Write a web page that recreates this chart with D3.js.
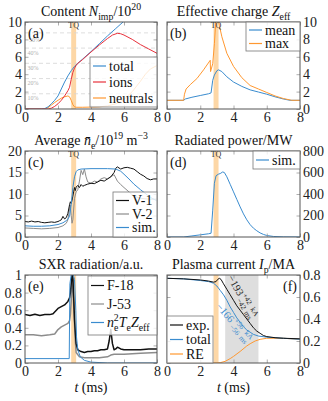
<!DOCTYPE html>
<html>
<head>
<meta charset="utf-8">
<script src="https://cdn.jsdelivr.net/npm/d3@7"></script>
<style>
body { margin: 0; background: #fff; }
svg, svg text { font-family: "Liberation Serif", "Tinos", "Times New Roman", "DejaVu Serif", serif; }
</style>
</head>
<body>
<svg id="chart" width="328" height="401"></svg>
<script>
// ---- data ----
const tqBand = [2.8, 3.1];
const fitWindow = [3.5, 5.5];
const timeTicks = [0, 2, 4, 6, 8];

// (a) impurity content
const aTicks = [0, 2, 4, 6, 8, 10];
const aPctLabels = ["10%", "20%", "30%", "40%", "50%"];
const aPctValues = [1.75, 3.5, 5.25, 7.0, 8.75];
const aTotal = [[0,0],[1.0,0],[1.2,0.05],[1.4,0.25],[1.6,0.6],[1.8,1.0],[2.0,1.5],[2.2,2.3],[2.4,3.1],[2.6,3.8],[2.8,4.4],[3.0,4.9],[3.2,5.25],[3.5,5.75],[4.0,6.6],[4.5,7.5],[5.0,8.4],[5.5,9.25],[6.0,10.1],[6.5,10.9]];
const aIons = [[0,0],[1.4,0],[1.6,0.1],[1.8,0.3],[2.0,0.6],[2.2,1.0],[2.4,1.5],[2.6,2.1],[2.7,2.5],[2.8,3.4],[2.9,4.2],[3.0,4.7],[3.1,5.0],[3.2,5.25],[3.5,5.7],[4.0,6.55],[4.5,7.35],[5.0,8.1],[5.3,8.5],[5.6,8.7],[5.8,8.65],[6.0,8.5],[6.5,8.0],[7.0,7.4],[7.5,6.9],[8.0,6.4]];
const aNeutrals = [[0,0],[1.2,0],[1.4,0.15],[1.6,0.45],[1.8,0.75],[2.0,1.0],[2.2,1.25],[2.4,1.4],[2.6,1.5],[2.7,1.4],[2.8,1.0],[2.9,0.5],[3.0,0.25],[3.1,0.2],[3.5,0.2],[4.0,0.22],[4.5,0.25],[5.0,0.35],[5.5,0.6],[6.0,1.1],[6.5,2.0],[7.0,3.2],[7.3,4.0],[7.6,4.6],[8.0,5.0]];

// (b) effective charge
const bTicks = [0, 2, 4, 6, 8, 10];
const bMean = [[0,1],[1.0,1],[1.1,1.15],[1.5,1.35],[2.0,1.55],[2.5,1.75],[2.65,1.85],[2.75,3.3],[2.85,3.9],[3.0,4.4],[3.1,4.5],[3.3,4.3],[3.6,3.7],[4.0,3.1],[4.5,2.6],[5.0,2.2],[5.5,1.95],[6.0,1.7],[6.5,1.4],[7.0,1.15],[7.4,1.0],[8.0,1.0]];
const bMax = [[0,1],[1.0,1],[1.05,1.7],[1.15,2.3],[1.4,2.8],[1.8,3.5],[2.2,4.5],[2.6,5.6],[2.62,4.3],[2.75,5.2],[2.85,7.5],[2.95,10.5],[3.05,10.5],[3.15,9.6],[3.3,8.3],[3.6,6.4],[4.0,4.9],[4.5,3.6],[5.0,2.7],[5.5,2.3],[6.0,1.9],[6.5,1.5],[7.0,1.2],[7.5,1.0],[8.0,1.0]];

// (c) line-averaged density
const cTicks = [0, 5, 10, 15, 20];
const cV1 = [[0,3.6],[0.2,3.5],[0.4,3.7],[0.6,3.5],[0.8,3.6],[1.0,3.4],[1.2,3.3],[1.4,3.4],[1.6,3.5],[1.8,3.4],[2.0,3.6],[2.1,3.8],[2.2,4.0],[2.3,4.8],[2.4,4.2],[2.5,4.5],[2.6,5.5],[2.7,7.5],[2.75,8.2],[2.8,7.8],[2.85,8.5],[2.9,9.5],[2.95,10.5],[3.0,11.5],[3.05,10.8],[3.1,11.6],[3.2,12.0],[3.3,11.5],[3.4,12.2],[3.5,11.8],[3.6,12.0],[3.8,12.3],[4.0,12.5],[4.2,12.4],[4.4,12.8],[4.6,13.2],[4.8,13.0],[5.0,13.5],[5.2,14.0],[5.4,15.0],[5.5,16.0],[5.6,16.3],[5.8,15.8],[6.0,16.1],[6.2,16.2],[6.4,16.0],[6.6,15.8],[6.8,15.2],[7.0,14.6],[7.2,14.2],[7.4,13.6],[7.6,13.3],[7.8,13.5],[8.0,13.5]];
const cV2 = [[0,2.1],[0.5,2.0],[1.0,1.9],[1.5,2.0],[2.0,2.2],[2.3,2.6],[2.5,3.2],[2.6,4.0],[2.7,6.5],[2.75,7.5],[2.8,5.0],[2.85,3.2],[2.9,4.0],[3.0,9.0],[3.1,10.5],[3.2,11.0],[3.3,13.0],[3.4,15.5],[3.5,14.5],[3.6,15.8],[3.7,14.0],[3.8,12.8],[4.0,12.5],[4.2,13.0],[4.4,12.8],[4.6,13.5],[4.8,13.8],[5.0,13.5],[5.2,14.0],[5.4,14.5],[5.6,13.0],[5.8,12.2],[6.0,11.5],[6.3,10.5],[6.6,9.5],[7.0,9.0],[7.5,8.8],[8.0,8.8]];
const cSim = [[0,2.6],[0.5,2.5],[1.0,2.5],[1.5,2.6],[2.0,2.9],[2.3,3.3],[2.5,3.8],[2.6,4.2],[2.7,4.8],[2.8,7.5],[2.9,11.5],[3.0,14.0],[3.1,15.2],[3.2,15.6],[3.4,15.8],[4.0,15.9],[5.0,15.9],[5.5,15.8],[5.8,15.3],[6.0,14.6],[6.3,13.5],[6.6,12.3],[7.0,11.0],[7.4,9.8],[7.7,9.0],[8.0,8.4]];

// (d) radiated power
const dTicks = [0, 200, 400, 600, 800];
const dSim = [[0,0],[1.0,0],[1.5,10],[2.0,20],[2.5,30],[2.65,35],[2.75,250],[2.85,500],[2.95,570],[3.1,585],[3.2,590],[3.35,605],[3.45,600],[3.6,560],[3.8,490],[4.0,420],[4.2,350],[4.4,280],[4.6,215],[4.8,160],[5.0,115],[5.2,82],[5.4,58],[5.6,38],[5.8,24],[6.0,14],[6.4,5],[7.0,1],[8.0,0]];

// (e) SXR radiation
const eTicks = [0, 0.2, 0.4, 0.6, 0.8, 1];
const eF18 = [[0,0.55],[0.3,0.54],[0.6,0.555],[0.9,0.54],[1.2,0.55],[1.5,0.55],[1.7,0.56],[1.9,0.6],[2.0,0.62],[2.2,0.64],[2.4,0.66],[2.5,0.68],[2.6,0.7],[2.7,0.74],[2.75,0.8],[2.8,0.9],[2.85,1.0],[2.9,0.97],[2.95,0.75],[3.0,0.5],[3.05,0.35],[3.1,0.22],[3.2,0.15],[3.4,0.13],[3.6,0.12],[3.8,0.13],[4.0,0.13],[4.2,0.14],[4.4,0.14],[4.6,0.15],[4.8,0.15],[5.0,0.16],[5.1,0.25],[5.2,0.38],[5.3,0.22],[5.4,0.15],[5.5,0.16],[5.6,0.18],[5.8,0.16],[6.0,0.15],[6.5,0.15],[7.0,0.15],[7.5,0.16],[8.0,0.16]];
const eJ53 = [[0,0.32],[0.5,0.32],[1.0,0.31],[1.5,0.32],[1.8,0.33],[2.0,0.38],[2.2,0.41],[2.4,0.43],[2.6,0.45],[2.7,0.48],[2.75,0.55],[2.8,0.7],[2.87,1.0],[2.92,0.8],[3.0,0.45],[3.05,0.25],[3.1,0.12],[3.3,0.07],[3.6,0.06],[4.0,0.06],[4.5,0.06],[5.0,0.07],[5.2,0.09],[5.4,0.1],[5.6,0.1],[6.0,0.1],[7.0,0.11],[8.0,0.12]];
const eSim = [[0,0.05],[2.68,0.05],[2.72,0.9],[2.8,1.0],[2.9,1.02],[3.0,0.95],[3.08,0.6],[3.12,0.3],[3.2,0.15],[3.35,0.07],[3.6,0.03],[4.0,0.01],[5.0,0],[8.0,0]];

// (f) plasma current
const fTicks = [0, 0.2, 0.4, 0.6, 0.8];
const fExp = [[0,0.77],[1,0.765],[2,0.755],[2.5,0.745],[2.8,0.735],[2.95,0.74],[3.05,0.76],[3.15,0.77],[3.25,0.76],[3.4,0.72],[3.6,0.67],[3.8,0.62],[4.0,0.57],[4.2,0.52],[4.4,0.48],[4.6,0.44],[4.8,0.4],[5.0,0.36],[5.2,0.32],[5.4,0.29],[5.6,0.27],[5.8,0.25],[6.0,0.24],[6.5,0.23],[7.0,0.225],[8.0,0.22]];
const fTotal = [[0,0.77],[1,0.765],[2,0.75],[2.5,0.74],[2.8,0.725],[3.0,0.7],[3.2,0.66],[3.4,0.62],[3.6,0.57],[3.8,0.51],[4.0,0.46],[4.2,0.41],[4.4,0.37],[4.6,0.33],[4.8,0.3],[5.0,0.28],[5.2,0.26],[5.5,0.245],[6.0,0.235],[7.0,0.225],[8.0,0.215]];
const fRE = [[0,0],[3.0,0],[3.2,0.003],[3.5,0.015],[3.8,0.04],[4.0,0.06],[4.4,0.105],[4.8,0.155],[5.0,0.175],[5.3,0.2],[5.6,0.215],[6.0,0.225],[7.0,0.225],[8.0,0.215]];

// ---- layout ----
const font = "Liberation Serif, Tinos, Times New Roman, serif";
const blue = "#3a8ccf", orange = "#ff9830", red = "#e8313c", grey = "#8c8c8c";
const cols = [[25, 157], [167, 300]];
const rows = [[22, 109], [151, 237], [275, 363]];
const fs = 14;

const svg = d3.select("#chart").attr("font-family", font);

function rich(sel, parts, size) {
  let shift = 0;
  sel.attr("font-family", font);
  parts.forEach(([str, kind = "", dx]) => {
    const sub = kind.includes("sub"), sup = kind.includes("sup");
    const target = sub ? 0.3 * size : sup ? -0.42 * size : 0;
    const ts = sel.append("tspan").text(str).attr("dy", target - shift);
    if (dx) ts.attr("dx", dx);
    if (sub || sup) ts.attr("font-size", size * 0.7);
    if (kind.startsWith("i")) ts.attr("font-style", "italic");
    shift = target;
  });
}

function panel(p) {
  const [x0, x1] = cols[p.col], [y0, y1] = rows[p.row];
  const x = d3.scaleLinear().domain([0, 8]).range([x0, x1]);
  const y = d3.scaleLinear().domain(p.yDomain).range([y1, y0]);
  const g = svg.append("g");
  const clip = "clip-" + p.id;
  g.append("clipPath").attr("id", clip).append("rect")
    .attr("x", x0).attr("y", y0).attr("width", x1 - x0).attr("height", y1 - y0);
  const inner = g.append("g").attr("clip-path", `url(#${clip})`);

  if (p.window) {
    inner.append("rect").attr("x", x(p.window[0])).attr("y", y0)
      .attr("width", x(p.window[1]) - x(p.window[0])).attr("height", y1 - y0)
      .attr("fill", "#dedede");
  }
  inner.append("rect").attr("x", x(tqBand[0])).attr("y", y0)
    .attr("width", x(tqBand[1]) - x(tqBand[0])).attr("height", y1 - y0)
    .attr("fill", "#fdd7a6");

  if (p.grid) {
    inner.selectAll(".grid").data(p.grid.values).join("line")
      .attr("x1", x0).attr("x2", x1)
      .attr("y1", d => y(d)).attr("y2", d => y(d))
      .attr("stroke", "#d4d4d4").attr("stroke-width", 0.8).attr("stroke-dasharray", "4,3");
    inner.selectAll(".pct").data(p.grid.labels).join("text")
      .attr("x", (d, i) => x0 + (i === 4 ? 4 : 2.5)).attr("y", (d, i) => y(p.grid.values[i]) + (i === 4 ? 9 : 6.5))
      .attr("font-size", 6).attr("fill", "#b0b0b0").text(d => d);
  }

  const line = d3.line().x(d => x(d[0])).y(d => y(d[1]));
  p.series.forEach(s => {
    inner.append("path").attr("d", line(s.data)).attr("fill", "none")
      .attr("stroke", s.color).attr("stroke-width", s.width || 1)
      .attr("stroke-linejoin", "round");
  });

  // axes with inward ticks on all sides
  const tick = 3.5;
  const ax = (gen, tx, ty, labels) => {
    const a = g.append("g").attr("transform", `translate(${tx},${ty})`).call(gen)
      .attr("font-family", font).attr("font-size", fs);
    a.select(".domain").remove();
    a.selectAll(".tick line").attr("stroke", "#999").attr("stroke-width", 0.8);
    a.selectAll("text").attr("fill", "#222");
    if (!labels) a.selectAll("text").remove();
    return a;
  };
  ax(d3.axisBottom(x).tickValues(timeTicks).tickSize(-tick).tickPadding(3).tickFormat(d3.format("d")), 0, y1, true);
  ax(d3.axisTop(x).tickValues(timeTicks).tickSize(-tick), 0, y0, false);
  const yFmt = d => String(d);
  if (p.col === 0) {
    ax(d3.axisLeft(y).tickValues(p.yTicks).tickSize(-tick).tickPadding(3).tickFormat(yFmt), x0, 0, true);
    ax(d3.axisRight(y).tickValues(p.yTicks).tickSize(-tick), x1, 0, false);
  } else {
    ax(d3.axisLeft(y).tickValues(p.yTicks).tickSize(-tick), x0, 0, false);
    ax(d3.axisRight(y).tickValues(p.yTicks).tickSize(-tick).tickPadding(3).tickFormat(yFmt), x1, 0, true);
  }

  g.append("rect").attr("x", x0).attr("y", y0).attr("width", x1 - x0).attr("height", y1 - y0)
    .attr("fill", "none").attr("stroke", "#555").attr("stroke-width", 1);

  // title
  const tt = g.append("text").attr("x", (x0 + x1) / 2).attr("y", y0 - 6)
    .attr("text-anchor", "middle").attr("font-size", fs).attr("fill", "#111");
  rich(tt, p.title, fs);

  // panel tag
  g.append("text").attr("x", p.tagRight ? x1 - 3 : x0 + 3).attr("y", y0 + 16)
    .attr("text-anchor", p.tagRight ? "end" : "start").attr("font-family", font)
    .attr("font-size", fs).attr("fill", "#111").text(`(${p.id})`);

  if (p.tq) {
    g.append("text").attr("x", x((tqBand[0] + tqBand[1]) / 2)).attr("y", y0 + 6)
      .attr("text-anchor", "middle").attr("font-family", font)
      .attr("font-size", 8).attr("fill", "#333").text("TQ");
  }

  // legend
  const L = p.legend;
  const lg = g.append("g").attr("transform", `translate(${L.x},${L.y})`);
  lg.append("rect").attr("width", L.w).attr("height", L.h)
    .attr("fill", "#fff").attr("fill-opacity", 0.8).attr("stroke", "#777").attr("stroke-width", 0.8);
  L.entries.forEach((e, i) => {
    const cy = L.pad + i * L.step;
    lg.append("line").attr("x1", 3).attr("x2", 16).attr("y1", cy).attr("y2", cy)
      .attr("stroke", e.color).attr("stroke-width", 1.2);
    const t = lg.append("text").attr("x", 19).attr("y", cy + 4.5).attr("font-size", fs).attr("fill", "#111");
    rich(t, e.label, fs);
  });

  if (p.xlabel) {
    const t = g.append("text").attr("x", (x0 + x1) / 2).attr("y", y1 + 29)
      .attr("text-anchor", "middle").attr("font-size", fs).attr("fill", "#111");
    rich(t, [["t", "i"], [" (ms)"]], fs);
  }
  return { g, x, y };
}

panel({
  id: "a", col: 0, row: 0, yDomain: [0, 10], yTicks: aTicks, tq: true,
  title: [["Content "], ["N", "i"], ["imp", "sub"], ["/10"], ["20", "sup"]],
  grid: { values: aPctValues, labels: aPctLabels },
  series: [
    { data: aNeutrals, color: orange },
    { data: aTotal, color: blue },
    { data: aIons, color: red }
  ],
  legend: { x: 90, y: 57, w: 67, h: 50, pad: 9, step: 16, entries: [
    { label: [["total"]], color: blue },
    { label: [["ions"]], color: red },
    { label: [["neutrals"]], color: orange }
  ] }
});

panel({
  id: "b", col: 1, row: 0, yDomain: [0, 10], yTicks: bTicks, tq: true,
  title: [["Effective charge "], ["Z", "i"], ["eff", "sub"]],
  series: [
    { data: bMean, color: blue },
    { data: bMax, color: orange }
  ],
  legend: { x: 246, y: 22, w: 54, h: 29, pad: 8, step: 13.5, entries: [
    { label: [["mean"]], color: blue },
    { label: [["max"]], color: orange }
  ] }
});

panel({
  id: "c", col: 0, row: 1, yDomain: [0, 20], yTicks: cTicks, tq: true,
  title: [["Average "], ["n\u0304", "i"], ["e", "sub"], ["/10"], ["19", "sup"], [" m"], ["\u22123", "sup"]],
  series: [
    { data: cV2, color: grey },
    { data: cV1, color: "#111" },
    { data: cSim, color: blue }
  ],
  legend: { x: 113, y: 192, w: 44, h: 45, pad: 8.5, step: 13.5, entries: [
    { label: [["V-1"]], color: "#111" },
    { label: [["V-2"]], color: grey },
    { label: [["sim."]], color: blue }
  ] }
});

panel({
  id: "d", col: 1, row: 1, yDomain: [0, 800], yTicks: dTicks, tq: true,
  title: [["Radiated power/MW"]],
  series: [{ data: dSim, color: blue }],
  legend: { x: 253, y: 151, w: 47, h: 18, pad: 9, step: 13.5, entries: [
    { label: [["sim."]], color: blue }
  ] }
});

panel({
  id: "e", col: 0, row: 2, yDomain: [0, 1], yTicks: eTicks, xlabel: true,
  title: [["SXR radiation/a.u."]],
  series: [
    { data: eJ53, color: grey, width: 1.5 },
    { data: eF18, color: "#111", width: 1.5 },
    { data: eSim, color: blue }
  ],
  legend: { x: 88, y: 276, w: 69, h: 59, pad: 9.5, step: 18.5, entries: [
    { label: [["F-18"]], color: "#111" },
    { label: [["J-53"]], color: grey },
    { label: [["n", "i"], ["e", "sub"], ["2", "sup", -4.5], ["T", "i"], ["e", "sub"], ["Z", "i"], ["eff", "sub"]], color: blue }
  ] }
});

const f = panel({
  id: "f", col: 1, row: 2, yDomain: [0, 0.8], yTicks: fTicks, xlabel: true, tagRight: true, window: fitWindow,
  title: [["Plasma current "], ["I", "i"], ["p", "sub"], ["/MA"]],
  series: [
    { data: fRE, color: orange },
    { data: fTotal, color: blue },
    { data: fExp, color: "#111" }
  ],
  legend: { x: 167, y: 316, w: 46, h: 47, pad: 9, step: 14.5, entries: [
    { label: [["exp."]], color: "#111" },
    { label: [["total"]], color: blue },
    { label: [["RE"]], color: orange }
  ] }
});

// slope annotations in (f)
const notes = [
  { t: 3.62, v: 0.775, angle: 60, color: "#222", main: "\u2212193", err: "42" },
  { t: 2.92, v: 0.51, angle: 49, color: blue, main: "\u2212166", err: "56" }
];
notes.forEach(n => {
  const txt = f.g.append("text")
    .attr("transform", `translate(${f.x(n.t)},${f.y(n.v)}) rotate(${n.angle})`)
    .attr("font-size", 10.5).attr("fill", n.color);
  rich(txt, [[n.main], ["+" + n.err, "sup", 1], ["\u2212" + n.err, "sub", -10], ["kA", "sup", 3], ["ms", "sub", -9]], 10.5);
});
</script>
</body>
</html>
